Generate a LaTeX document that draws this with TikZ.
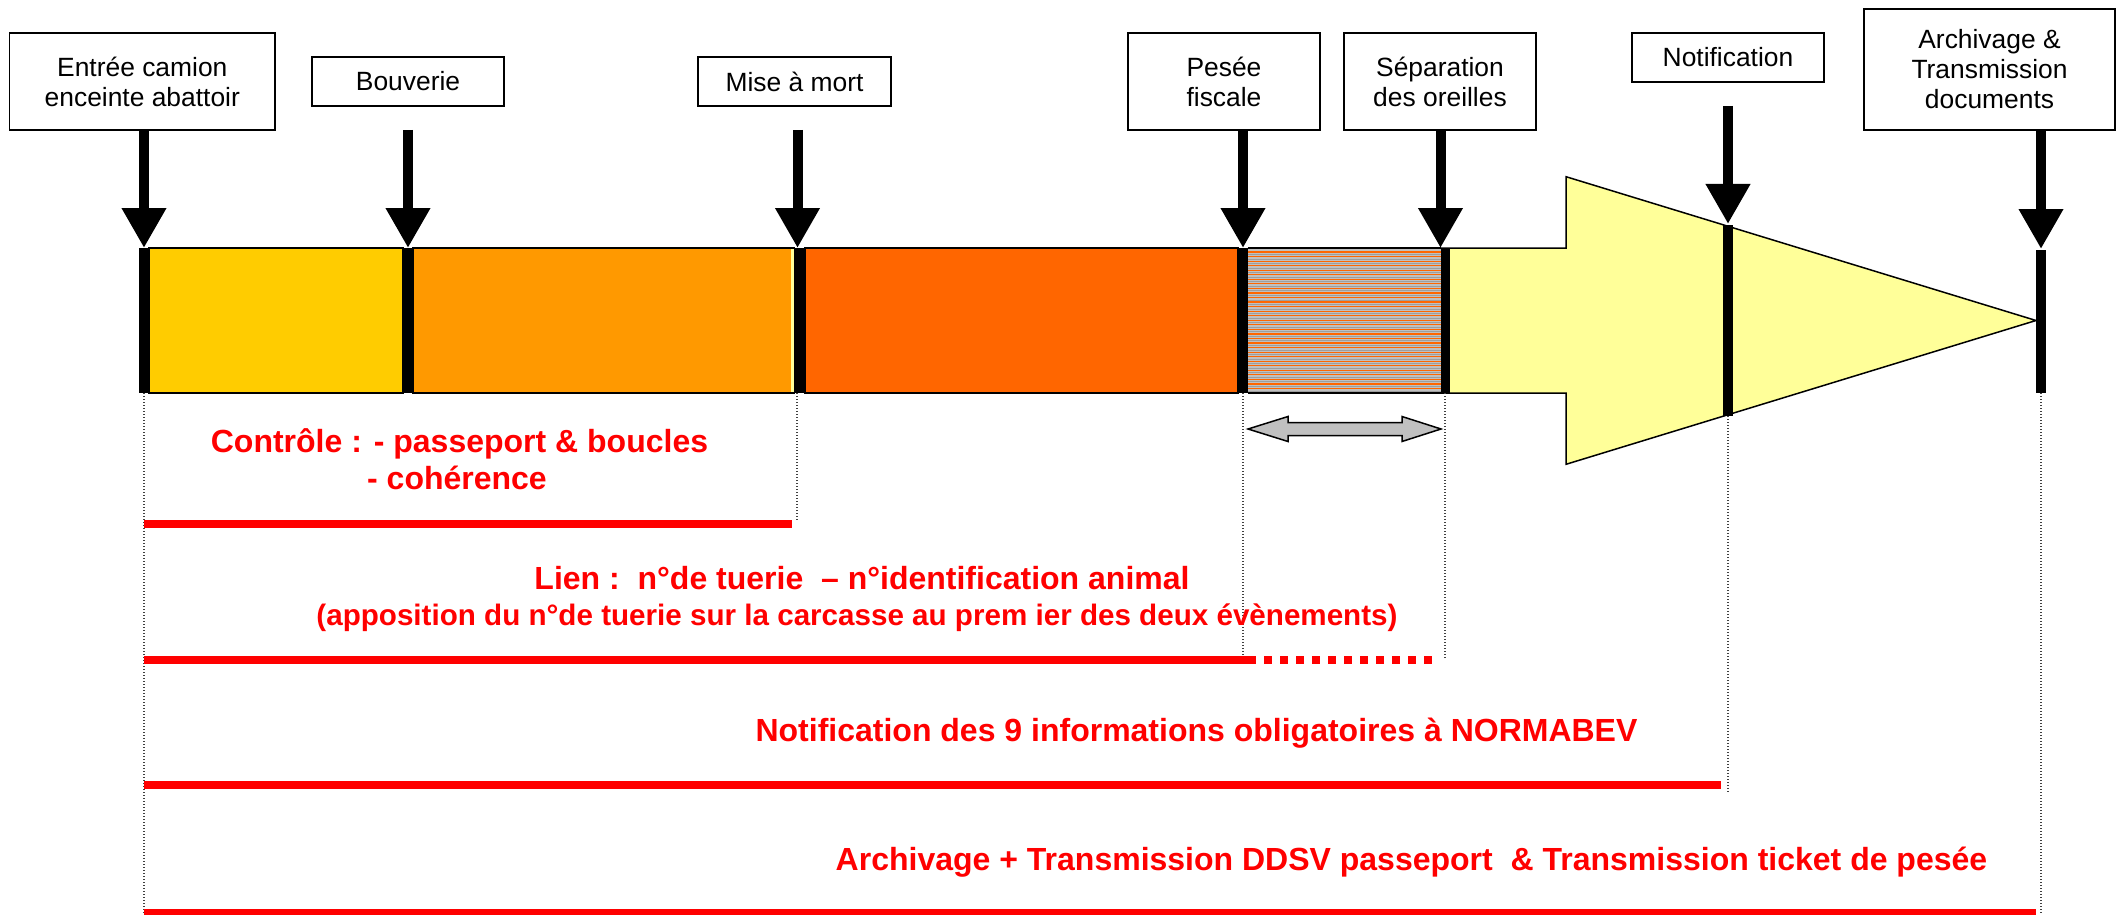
\documentclass[tikz,border=0pt]{standalone}
\usepackage{fontspec}
\setmainfont{Liberation Sans}
\usetikzlibrary{arrows.meta}
\definecolor{cYel}{HTML}{FFCC00}
\definecolor{cOra}{HTML}{FF9900}
\definecolor{cRor}{HTML}{FF6600}
\definecolor{cHat}{HTML}{C0C0C0}
\definecolor{cPale}{HTML}{FFFF99}
\definecolor{cRed}{HTML}{FF0000}
\begin{document}
\begin{tikzpicture}[x=0.5pt,y=-0.5pt,
  lbl/.style={draw=black,line width=0.75pt,fill=white,inner sep=0pt,align=center,font=\fontsize{13.2pt}{15pt}\selectfont},
  dn/.style={line width=5pt,-{Triangle[length=20pt,width=21pt]}},
  guide/.style={line width=0.7pt,black!75,dash pattern=on 0.7pt off 0.8pt},
  redbar/.style={cRed,line width=4pt},
  redtxt/.style={text=cRed,font=\fontsize{16pt}{19pt}\selectfont\bfseries,inner sep=0pt,anchor=base},
  seg/.style={draw=black,line width=0.75pt}]
\useasboundingbox (0,0) rectangle (2116,915);
% big yellow arrow
\filldraw[fill=cPale,draw=black,line width=0.75pt] (1441,248) -- (1566,248) -- (1566,176.7) -- (2036,320.5) -- (1566,464.3) -- (1566,393) -- (1441,393);
% bar segments
\filldraw[seg,fill=cYel] (149,248) rectangle (403,393);
\filldraw[seg,fill=cOra] (413,248) rectangle (794,393);
\fill[cPale] (791,249) rectangle (794,392);
\filldraw[seg,fill=cRor] (805,248) rectangle (1238,393);
\fill[cHat] (1247.5,248) rectangle (1441,393);
\foreach \i in {0,...,30} {
  \draw[cRor,line width=0.6pt] (1247.5,{252+4.55*\i}) -- (1441,{252+4.55*\i});
  \draw[black!38,line width=0.3pt] (1247.5,{254.3+4.55*\i}) -- (1441,{254.3+4.55*\i});
}
\draw[black,line width=0.75pt] (1247.5,248) -- (1441,248) (1247.5,393) -- (1441,393);
% black bars
\fill (139,248) rectangle (149,393);
\fill (403,248) rectangle (413,393);
\fill (794,248) rectangle (805,393);
\fill (1238,248) rectangle (1247.5,393);
\fill (1441,248) rectangle (1450,393);
\fill (1723,225) rectangle (1733,416);
\fill (2036,250) rectangle (2046,393);
% label boxes
\node[lbl,minimum width=132.7pt,minimum height=48.5pt] (entree) at (142.3,81.5) {Entrée camion\\enceinte abattoir};
\node[lbl,minimum width=96pt,minimum height=24.5pt] (bouverie) at (408,81.5) {Bouverie};
\node[lbl,minimum width=96.5pt,minimum height=24.5pt] (mise) at (794.5,81.5) {Mise à mort};
\node[lbl,minimum width=96pt,minimum height=48.5pt] (pesee) at (1224,81.5) {Pesée\\fiscale};
\node[lbl,minimum width=96pt,minimum height=48.5pt] (sep) at (1440,81.5) {Séparation\\des oreilles};
\node[lbl,minimum width=96pt,minimum height=24.5pt] (notif) at (1728,57.5) {Notification};
\node[lbl,minimum width=125.5pt,minimum height=60.5pt] (arch) at (1989.5,69.5) {Archivage \&\\Transmission\\documents};
% arrow end points
\coordinate (eT) at (144,248);
\coordinate (bS) at (408,130);
\coordinate (bT) at (408,248);
\coordinate (mS) at (797.5,130);
\coordinate (mT) at (797.5,248);
\coordinate (pT) at (1243,248);
\coordinate (sT) at (1440.5,248);
\coordinate (nS) at (1728,106);
\coordinate (nT) at (1728,224);
\coordinate (aT) at (2041,249);
\draw[dn] (entree.south -| eT) -- (eT);
\draw[dn] (bS) -- (bT);
\draw[dn] (mS) -- (mT);
\draw[dn] (pesee.south -| pT) -- (pT);
\draw[dn] (sep.south -| sT) -- (sT);
\draw[dn] (nS) -- (nT);
\draw[dn] (arch.south -| aT) -- (aT);
% double grey arrow
\filldraw[fill=cHat,draw=black,line width=0.75pt] (1248,429) -- (1288,416.5) -- (1288,422.5) -- (1402,422.5) -- (1402,416.5) -- (1441,429) -- (1402,441.5) -- (1402,435.5) -- (1288,435.5) -- (1288,441.5) -- cycle;
% dotted guides
\draw[guide] (144,393) -- (144,915);
\draw[guide] (797,393) -- (797,520);
\draw[guide] (1243,393) -- (1243,657);
\draw[guide] (1445,393) -- (1445,659);
\draw[guide] (1728,416) -- (1728,792);
\draw[guide] (2041,393) -- (2041,915);
% red bars
\draw[redbar] (144,524) -- (792,524);
\draw[redbar] (144,659.5) -- (1248,659.5);
\draw[redbar,dash pattern=on 3.75pt off 4.25pt] (1248,659.5) -- (1436,659.5);
\draw[redbar] (144,784.7) -- (1721,784.7);
\draw[redbar] (144,913) -- (2036,913);
% red texts
\node[redtxt] (ctrl1) at (459.5,452) {Contrôle : - passeport \& boucles};
\node[redtxt] (ctrl2) at (457,489) {- cohérence};
\node[redtxt] (lien1) at (862,589) {Lien :\ \ n°de tuerie\ \ – n°identification animal};
\node[redtxt,font=\fontsize{14.8pt}{17pt}\selectfont\bfseries] (lien2) at (857,625) {(apposition du n°de tuerie sur la carcasse au prem ier des deux évènements)};
\node[redtxt] (notiftxt) at (1196.5,741) {Notification des 9 informations obligatoires à NORMABEV};
\node[redtxt] (archtxt) at (1411.5,870) {Archivage + Transmission DDSV passeport\ \ \& Transmission ticket de pesée};
\end{tikzpicture}
\end{document}
